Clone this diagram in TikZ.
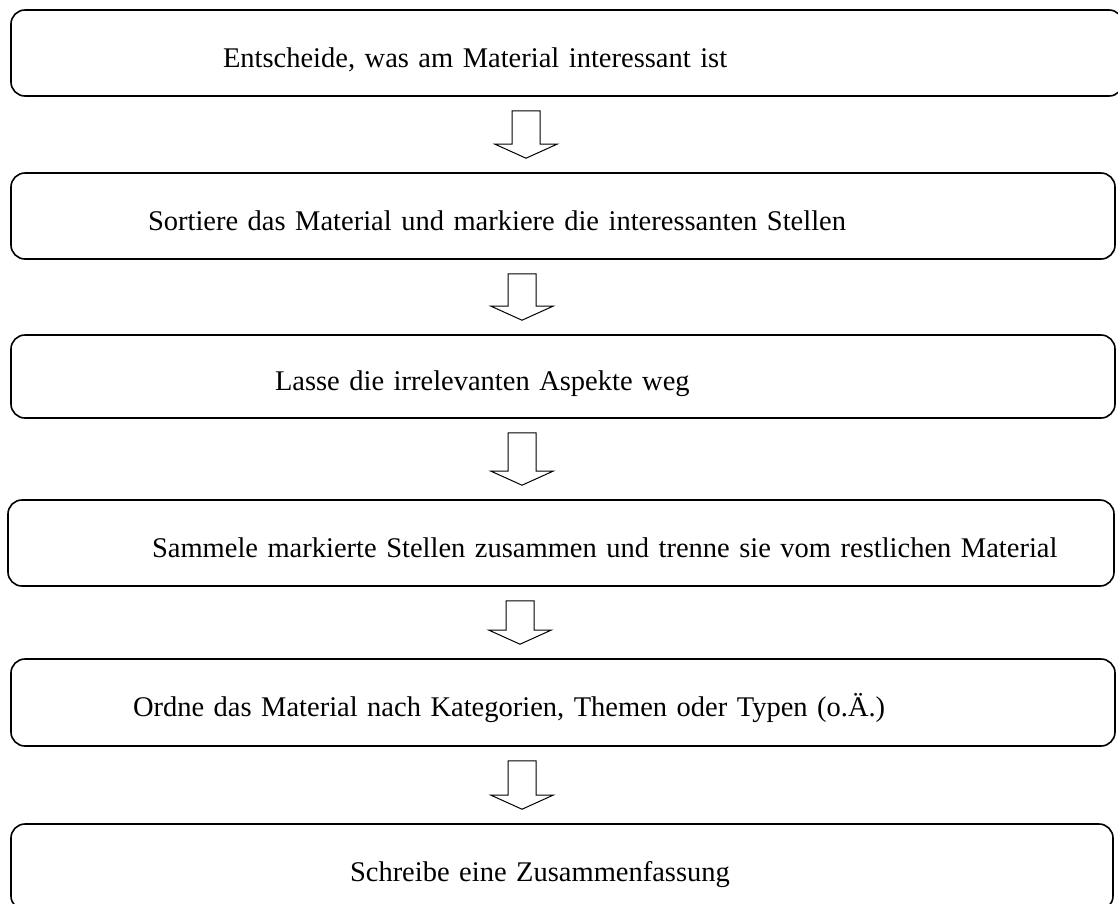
\documentclass[tikz,border=0pt]{standalone}
\usepackage{fontspec}
\setmainfont{Liberation Serif}
\usetikzlibrary{calc}
\tikzset{stepbox/.style={rectangle, draw, line width=1.6pt, rounded corners=14pt, minimum height=86pt, text width=1104pt, inner xsep=0pt, inner ysep=0pt, align=left, text height=28pt, text depth=0pt, font=\fontsize{28.5}{34}\selectfont},
  flowarrow/.style={draw, line width=1pt, fill=white, line join=miter}}
% hollow block arrow from box #1 down to box #2
\newcommand{\flowarrow}[2]{%
  \path[flowarrow] let \p1=($(#1.south)+(-41,0)$), \p2=($(#2.north)+(-41,0)$) in
    (\x1-14pt,\y1-14pt) -- (\x1+14pt,\y1-14pt) -- (\x1+14pt,\y2+28pt) -- (\x1+31pt,\y2+28pt)
    -- (\x1,\y2+14pt) -- (\x1-31pt,\y2+28pt) -- (\x1-14pt,\y2+28pt) -- cycle;}
\begin{document}
\begin{tikzpicture}[x=1pt, y=-1pt]
    \useasboundingbox (0,0) rectangle (1118,903);

    % steps
    \node[stepbox, text width=1112pt] (decide) at (567, 53) {\hspace*{212pt}Entscheide, was am Material interessant ist};
    \node[stepbox] (sort) at (563, 216) {\hspace*{137pt}Sortiere das Material und markiere die interessanten Stellen};
    \node[stepbox, minimum height=83pt] (omit) at (563, 376.5) {\hspace*{264pt}Lasse die irrelevanten Aspekte weg};
    \node[stepbox, text width=1106pt] (collect) at (561, 543) {\hspace*{144pt}Sammele markierte Stellen zusammen und trenne sie vom restlichen Material};
    \node[stepbox, minimum height=87pt] (order) at (563, 702.5) {\hspace*{122pt}Ordne das Material nach Kategorien, Themen oder Typen (o.Ä.)};
    \node[stepbox, text width=1102pt] (summary) at (562, 867) {\hspace*{339pt}Schreibe eine Zusammenfassung};

    % arrows
    \flowarrow{decide}{sort}
    \flowarrow{sort}{omit}
    \flowarrow{omit}{collect}
    \flowarrow{collect}{order}
    \flowarrow{order}{summary}

\end{tikzpicture}
\end{document}
